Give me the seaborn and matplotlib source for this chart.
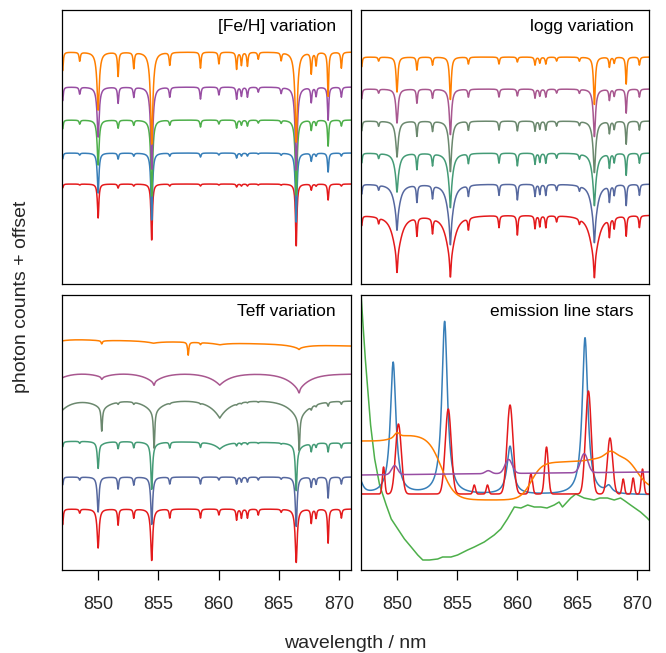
import numpy as np
import pandas as pd
import matplotlib
matplotlib.use("Agg")
import matplotlib.pyplot as plt
import seaborn as sns

sns.set_theme(style="white")
plt.rcParams["font.family"] = ["Liberation Sans", "DejaVu Sans"]

# ---------------------------------------------------------------- axes
WAVE_MIN, WAVE_MAX = 847.0, 871.0
TICKS = [850, 855, 860, 865, 870]
TICK_LABELS = ["850", "855", "860", "865", "870"]
PANEL_TITLES = ["[Fe/H] variation", "logg variation", "Teff variation", "emission line stars"]
X_LABEL = "wavelength / nm"
Y_LABEL = "photon counts + offset"

RED, BLUE, GREEN, PURPLE, ORANGE = "#E41A1C", "#377EB8", "#4DAF4A", "#984EA3", "#FF7F00"
RAMP6 = ["#E41A1C", "#56689F", "#449B76", "#6B886E", "#A8578F", "#FF7F00"]

# Ca II triplet and the weaker metal lines (nm), shared by the absorption panels
CAT_WAVE = [850.0, 854.45, 866.45]
METAL_WAVE = [847.05, 848.47, 851.66, 852.96, 855.95, 858.5, 860.03, 861.5,
              861.9, 862.4, 863.3, 865.2, 867.7, 868.1, 869.1, 870.2]

# ---------------------------------------------------------------- [Fe/H] panel (bottom spectrum first)
FEH_COLOURS = [RED, BLUE, GREEN, PURPLE, ORANGE]
FEH_CONTINUUM = [100, 131, 164, 197, 232]
FEH_CAT_DEPTH = [[34, 57, 63], [40, 68, 70], [45, 77, 76], [50, 83, 84], [58, 93, 91]]
FEH_CAT_HWHM = [0.07, 0.09, 0.11, 0.13, 0.15]
FEH_METAL_DEPTH = [
    [4, 1, 4, 2, 2, 2, 1, 3, 2, 2, 1, 1, 6, 2, 16, 2],
    [6, 2, 6, 3, 3, 4, 2, 5, 3, 3, 1, 2, 8, 3, 19, 3],
    [9, 4, 8, 5, 5, 7, 4, 8, 5, 6, 3, 3, 10, 5, 26, 6],
    [14, 7, 16, 10, 10, 12, 8, 12, 9, 10, 5, 6, 15, 9, 33, 10],
    [19, 9, 24, 16, 13, 16, 12, 17, 13, 14, 7, 8, 21, 13, 44, 16],
]

# ---------------------------------------------------------------- logg panel
LOGG_COLOURS = RAMP6
LOGG_CONTINUUM = [69, 100, 131, 163, 195, 227]
LOGG_CAT_DEPTH = [[57, 62, 63], [46, 61, 59], [39, 55, 53], [36, 51, 52], [34, 46, 48], [35, 43, 48]]
LOGG_CAT_HWHM = [0.45, 0.32, 0.24, 0.18, 0.14, 0.10]
LOGG_METAL_DEPTH = [
    [10, 6, 18, 15, 12, 12, 20, 13, 11, 12, 6, 5, 18, 11, 20, 12],
    [10, 5, 17, 13, 11, 11, 16, 12, 10, 11, 6, 5, 16, 10, 21, 11],
    [10, 5, 16, 12, 10, 10, 13, 11, 9, 10, 5, 5, 14, 9, 22, 10],
    [10, 5, 15, 10, 9, 9, 10, 10, 8, 9, 5, 4, 12, 8, 23, 9],
    [10, 4, 14, 9, 8, 8, 7, 9, 7, 8, 4, 4, 11, 7, 24, 8],
    [10, 4, 13, 8, 7, 7, 5, 8, 6, 7, 4, 4, 10, 6, 27, 8],
]

# ---------------------------------------------------------------- Teff panel
TEFF_COLOURS = RAMP6
TEFF_CONT_LEFT = [61, 93, 129, 171, 198, 231]
TEFF_CONT_RIGHT = [61, 93, 127, 169, 196, 224]
TEFF_CAT_DEPTH = [[39, 52, 54], [35, 48, 50], [26, 46, 45], [0, 0, 0], [0, 0, 0], [0, 0, 0]]
TEFF_CAT_HWHM = [0.12, 0.10, 0.09, 0.07, 0.07, 0.07]
TEFF_METAL_DEPTH = [
    [16, 4, 16, 9, 9, 9, 6, 11, 9, 9, 6, 3, 14, 9, 34, 9],
    [8, 3, 12, 8, 7, 7, 3, 7, 5, 5, 3, 2, 10, 7, 21, 7],
    [5, 2, 7, 6, 6, 5, 0, 3, 2, 2, 1, 1, 8, 4, 9, 5],
    [0, 0, 2, 2, 1, 1, 0, 1, 1, 1, 1, 0, 3, 2, 4, 3],
    [0, 0, 0, 0, 0, 0, 0, 0, 0, 0, 0, 0, 0, 0, 0, 0],
    [0, 0, 0, 0, 0, 2, 0, 0, 0, 0, 0, 0, 0, 0, 0, 0],
]
# sharp cores sitting on the hydrogen lines, plus the He I line of the hottest star
HOT_CORE_WAVE = [850.3, 854.65, 866.7, 857.48]
TEFF_HOT_CORE_DEPTH = [[0, 0, 0, 0], [0, 0, 0, 0], [0, 0, 0, 0],
                       [22, 36, 31, 0], [2, 3, 3, 0], [3, 0, 1, 13]]
# broad Paschen lines
PASCHEN_WAVE = [846.95, 850.35, 854.6, 860.1, 866.65]
TEFF_PASCHEN_DEPTH = [[0, 0, 0, 0, 0], [0, 0, 0, 0, 0], [1, 2, 3, 7, 5],
                      [12, 10, 14, 18, 20], [6, 5, 10, 12, 17], [2, 1, 2, 2, 4]]
TEFF_PASCHEN_WIDTH = [0.6, 0.6, 0.6, 0.9, 1.0, 0.8]

# ---------------------------------------------------------------- emission line stars
EMI_GREEN_WAVE = [846.95, 847.03, 847.17, 847.36, 847.58, 847.80, 848.14, 848.55, 849.10,
                  849.52, 850.07, 850.62, 851.18, 851.73, 852.15, 852.70, 853.39, 853.80,
                  854.50, 855.05, 855.88, 856.44, 857.27, 858.10, 858.65, 859.20, 859.78,
                  860.33, 860.89, 861.44, 861.99, 862.50, 863.10, 863.51, 863.79, 864.48,
                  864.90, 865.59, 866.42, 866.90, 867.53, 868.10, 868.63, 869.00, 869.46,
                  870.29, 870.85, 871.0]
EMI_GREEN_COUNTS = [300, 271, 245, 211, 178, 145, 111, 85, 65,
                    51, 41, 31, 23, 15, 10, 10, 11, 13,
                    13, 15, 20, 23, 28, 35, 41, 51, 63,
                    62, 65, 63, 63, 62, 65, 68, 63, 72,
                    76, 72, 70, 72, 72, 70, 72, 69, 65,
                    58, 52, 50]

EMI_BLUE_BASE = 75
EMI_BLUE_WAVE = [846.9, 849.68, 853.97, 859.42, 865.67, 867.65]
EMI_BLUE_HEIGHT = [14, 132, 173, 48, 157, 7]
EMI_BLUE_HWHM = [0.3, 0.28, 0.28, 0.3, 0.28, 0.3]

EMI_RED_BASE = 76
EMI_RED_WAVE = [848.88, 850.12, 854.27, 856.44, 857.54, 859.42, 861.16, 862.46,
                865.95, 867.75, 868.85, 869.68, 870.46]
EMI_RED_HEIGHT = [27, 70, 85, 9, 9, 89, 20, 47, 103, 56, 15, 16, 25]
EMI_RED_SIGMA = [0.1, 0.24, 0.25, 0.1, 0.1, 0.25, 0.13, 0.15, 0.24, 0.22, 0.1, 0.1, 0.11]

EMI_ORANGE_BASE = 129
EMI_ORANGE_STEP_WAVE = [849.6, 853.7, 861.2, 866.8, 870.0]
EMI_ORANGE_STEP_SIZE = [6, -65, 38, 8, -35]
EMI_ORANGE_STEP_WIDTH = [0.4, 0.55, 0.45, 0.8, 0.5]
EMI_ORANGE_BUMP_WAVE = [850.0, 867.8]
EMI_ORANGE_BUMP_HEIGHT = [4, 5]
EMI_ORANGE_BUMP_SIGMA = [0.2, 0.4]

EMI_PURPLE_BASE_LEFT, EMI_PURPLE_BASE_RIGHT = 95, 98
EMI_PURPLE_WAVE = [849.8, 857.6, 859.3, 865.6]
EMI_PURPLE_HEIGHT = [9, 3, 14, 19]
EMI_PURPLE_SIGMA = [0.25, 0.25, 0.3, 0.3]

EMI_COLOURS = [GREEN, BLUE, RED, ORANGE, PURPLE]

CORE_HWHM = 0.07      # narrow core of the Ca II lines
WING_SHARE = 0.6      # fraction of the Ca II depth carried by the broad wings
METAL_HWHM = 0.06

# ---------------------------------------------------------------- spectrum synthesis
wave = np.arange(WAVE_MIN, WAVE_MAX + 1e-9, 0.02)


def lorentz(centre, hwhm):
    return 1.0 / (1.0 + ((wave - centre) / hwhm) ** 2)


def cusp(centre, width):
    return np.exp(-np.abs(wave - centre) / width)


def gauss(centre, sigma):
    return np.exp(-0.5 * ((wave - centre) / sigma) ** 2)


def sigmoid(centre, width):
    return 1.0 / (1.0 + np.exp(-(wave - centre) / width))


def absorption(continuum, cat_depth, wing_hwhm, metal_depth):
    flux = np.zeros_like(wave) + continuum
    for wl, d in zip(CAT_WAVE, cat_depth):
        flux -= d * (WING_SHARE * lorentz(wl, wing_hwhm) + (1 - WING_SHARE) * lorentz(wl, CORE_HWHM))
    for wl, d in zip(METAL_WAVE, metal_depth):
        flux -= d * lorentz(wl, METAL_HWHM)
    return flux


def frame(spectra):
    parts = []
    for k, (x, y) in enumerate(spectra):
        parts.append(pd.DataFrame({"wavelength": x, "counts": y, "spectrum": k}))
    return pd.concat(parts, ignore_index=True)


feh = [(wave, absorption(FEH_CONTINUUM[i], FEH_CAT_DEPTH[i], FEH_CAT_HWHM[i], FEH_METAL_DEPTH[i]))
       for i in range(len(FEH_COLOURS))]

logg = [(wave, absorption(LOGG_CONTINUUM[i], LOGG_CAT_DEPTH[i], LOGG_CAT_HWHM[i], LOGG_METAL_DEPTH[i]))
        for i in range(len(LOGG_COLOURS))]

teff = []
for i in range(len(TEFF_COLOURS)):
    tilt = TEFF_CONT_LEFT[i] + (TEFF_CONT_RIGHT[i] - TEFF_CONT_LEFT[i]) * (wave - WAVE_MIN) / (WAVE_MAX - WAVE_MIN)
    flux = absorption(0.0, TEFF_CAT_DEPTH[i], TEFF_CAT_HWHM[i], TEFF_METAL_DEPTH[i]) + tilt
    for wl, d in zip(HOT_CORE_WAVE, TEFF_HOT_CORE_DEPTH[i]):
        flux -= d * lorentz(wl, 0.06)
    for wl, d in zip(PASCHEN_WAVE, TEFF_PASCHEN_DEPTH[i]):
        flux -= d * cusp(wl, TEFF_PASCHEN_WIDTH[i])
    teff.append((wave, flux))

blue = EMI_BLUE_BASE + sum(h * lorentz(wl, g) for wl, h, g in zip(EMI_BLUE_WAVE, EMI_BLUE_HEIGHT, EMI_BLUE_HWHM))
red = EMI_RED_BASE + sum(h * gauss(wl, s) for wl, h, s in zip(EMI_RED_WAVE, EMI_RED_HEIGHT, EMI_RED_SIGMA))
orange = (EMI_ORANGE_BASE
          + sum(a * sigmoid(c, w) for c, a, w in zip(EMI_ORANGE_STEP_WAVE, EMI_ORANGE_STEP_SIZE, EMI_ORANGE_STEP_WIDTH))
          + sum(h * gauss(c, s) for c, h, s in zip(EMI_ORANGE_BUMP_WAVE, EMI_ORANGE_BUMP_HEIGHT, EMI_ORANGE_BUMP_SIGMA)))
purple = (EMI_PURPLE_BASE_LEFT + (EMI_PURPLE_BASE_RIGHT - EMI_PURPLE_BASE_LEFT) * (wave - WAVE_MIN) / (WAVE_MAX - WAVE_MIN)
          + sum(h * gauss(c, s) for c, h, s in zip(EMI_PURPLE_WAVE, EMI_PURPLE_HEIGHT, EMI_PURPLE_SIGMA)))
emission = [(np.array(EMI_GREEN_WAVE), np.array(EMI_GREEN_COUNTS, dtype=float)),
            (wave, blue), (wave, red), (wave, orange), (wave, purple)]

# ---------------------------------------------------------------- figure
W, H = 666, 653
fig = plt.figure(figsize=(W / 100, H / 100), dpi=100)


def px_axes(x0, y0, x1, y1):
    return fig.add_axes([x0 / W, 1 - y1 / H, (x1 - x0) / W, (y1 - y0) / H])


axes = [px_axes(62, 10, 351, 284), px_axes(361, 10, 649, 284),
        px_axes(62, 295, 351, 570), px_axes(361, 295, 649, 570)]
panels = [(feh, FEH_COLOURS, 274), (logg, LOGG_COLOURS, 274),
          (teff, TEFF_COLOURS, 275), (emission, EMI_COLOURS, 275)]

for k, (ax, (spectra, colours, top)) in enumerate(zip(axes, panels)):
    sns.lineplot(data=frame(spectra), x="wavelength", y="counts", hue="spectrum",
                 palette=colours, legend=False, estimator=None, sort=False,
                 linewidth=1.1, ax=ax)
    ax.set_xlim(WAVE_MIN, WAVE_MAX)
    ax.set_ylim(0, top)
    ax.set_xlabel("")
    ax.set_ylabel("")
    ax.set_yticks([])
    for s in ax.spines.values():
        s.set_visible(True)
        s.set_color("black")
        s.set_linewidth(0.9)
    ax.text(1 - 15 / 288, 1 - 16 / 274, PANEL_TITLES[k], transform=ax.transAxes,
            ha="right", va="center", fontsize=12.5, color="black")
    if k >= 2:
        ax.set_xticks(TICKS)
        ax.set_xticklabels(TICK_LABELS)
        ax.tick_params(axis="x", direction="out", length=7.5, width=0.9,
                       color="black", labelsize=13, pad=11, bottom=True)
    else:
        ax.set_xticks([])

fig.text(355 / W, 1 - 643 / H, X_LABEL, ha="center", va="center", fontsize=14)
fig.text(22 / W, 1 - 297 / H, Y_LABEL, ha="center", va="center", rotation=90, fontsize=14)

fig.savefig("out.png", dpi=100, facecolor="white")
